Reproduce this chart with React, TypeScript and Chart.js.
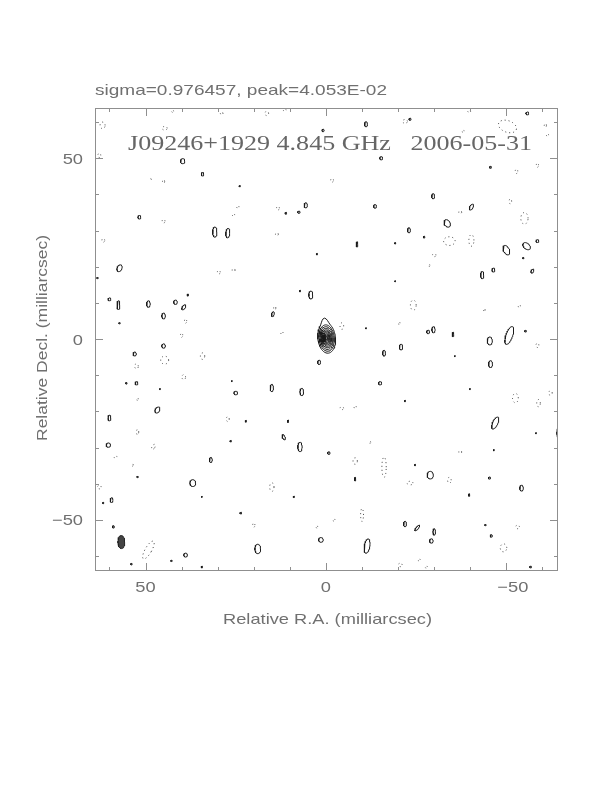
import React, { useEffect, useRef } from "react";
import { Chart, registerables } from "chart.js";

Chart.register(...registerables);

// ---------- text ----------
const headerText = "sigma=0.976457, peak=4.053E-02";
const mapTitle = "J09246+1929 4.845 GHz   2006-05-31";
const xAxisTitle = "Relative R.A. (milliarcsec)";
const yAxisTitle = "Relative Decl. (milliarcsec)";

// ---------- axes (milliarcsec) ----------
const xRange = [-64.3, 64.0];
const yRange = [-64.1, 63.9];
const xTickValues = [50, 0, -50];
const yTickValues = [50, 0, -50];
const xTickLabels = ["50", "0", "\u221250"];
const yTickLabels = ["50", "0", "\u221250"];
const minorTicks = [60, 40, 30, 20, 10, -10, -20, -30, -40, -60];

// ---------- core component: nested contours ----------
const coreCenter = [-0.2, 0.3];
const coreOuter = [2.45, 4.2, 6];
const coreLevels = [1.0, 0.87, 0.75, 0.64, 0.54, 0.45, 0.36, 0.28, 0.2, 0.12];
// bump on the outer contour: direction (deg), amplitude, width (rad)
const coreBump = [97, 0.32, 0.22];

// ---------- restoring beam ----------
const beam = [56.7, -56.1, 0.95, 1.8, 0];

// ---------- positive contours: [x, y, a, b, angle] ----------
const posContours: number[][] = [
  [39.7, 49.2, 0.6, 0.7, 0], [34.2, 45.6, 0.35, 0.5, 0], [23.9, 42.3, 0.2, 0.2, 0],
  [5.6, 37.0, 0.45, 0.7, 0], [7.5, 35.1, 0.35, 0.3, 0], [11.1, 34.8, 0.25, 0.25, 0],
  [51.7, 33.7, 0.4, 0.5, 0], [30.8, 29.6, 0.6, 1.4, 0], [27.2, 29.3, 0.55, 1.3, -5],
  [57.2, 19.6, 0.65, 1.0, -25], [63.3, 16.9, 0.2, 0.2, 0], [60.0, 11.0, 0.4, 0.4, 0],
  [57.5, 9.4, 0.4, 1.2, 0], [49.2, 9.7, 0.5, 0.9, 0], [41.7, 10.2, 0.5, 0.6, 0],
  [39.4, 8.8, 0.4, 0.8, -35], [38.3, 12.2, 0.2, 0.3, 0], [45.0, 6.4, 0.5, 0.8, 0],
  [57.2, 4.4, 0.2, 0.2, 0], [14.7, 6.9, 0.35, 0.7, -15], [4.2, 12.2, 0.55, 1.1, 0],
  [7.2, 13.3, 0.2, 0.2, 0], [0.8, 57.7, 0.3, 0.35, 0], [2.5, 23.5, 0.2, 0.2, 0],
  [-11.1, 59.4, 0.4, 0.7, 0], [-23.3, 60.8, 0.3, 0.3, 0], [-55.8, 62.4, 0.4, 0.4, 0],
  [-15.3, 50.0, 0.4, 0.45, 0], [-45.6, 47.5, 0.25, 0.3, 0], [-29.7, 39.5, 0.4, 0.7, 0],
  [-13.6, 36.7, 0.4, 0.5, 0], [-40.3, 36.5, 0.45, 0.9, -30], [-33.6, 32.0, 0.8, 1.1, 30],
  [-23.0, 30.1, 0.4, 0.7, 0], [-27.2, 28.2, 0.25, 0.25, 0], [-8.6, 26.2, 0.25, 0.7, 0],
  [-19.2, 26.5, 0.2, 0.2, 0], [-50.0, 24.6, 0.8, 1.4, 25], [-55.6, 25.7, 1.2, 0.8, -40],
  [-58.6, 27.1, 0.4, 0.4, 0], [-54.7, 22.4, 0.2, 0.2, 0], [-43.3, 17.7, 0.45, 1.0, 0],
  [-46.4, 19.1, 0.4, 0.55, 0], [-57.2, 18.8, 0.35, 0.6, -25], [-19.2, 16.0, 0.15, 0.15, 0],
  [-28.3, 2.0, 0.4, 0.5, 0], [-29.8, 2.6, 0.45, 0.85, 0], [-11.1, 3.0, 0.15, 0.15, 0],
  [-35.2, 1.3, 0.25, 0.6, 0], [-50.8, 1.0, 0.9, 2.6, -20], [-45.4, -0.5, 0.7, 1.1, 0],
  [-55.3, 2.2, 0.25, 0.25, 0],
  [45.0, -1.9, 0.5, 0.6, 0], [53.0, -4.1, 0.45, 0.55, 0], [52.5, -12.2, 0.4, 0.45, 0],
  [55.3, -12.2, 0.2, 0.25, 0], [46.7, -19.6, 0.6, 0.9, -30], [60.0, -21.8, 0.4, 0.8, 0],
  [60.3, -29.3, 0.6, 0.6, 0], [52.2, -38.1, 0.2, 0.2, 0], [59.4, -44.5, 0.4, 0.65, 0],
  [61.7, -45.3, 0.2, 0.2, 0], [58.9, -51.9, 0.25, 0.35, 0], [36.9, -39.8, 0.8, 0.95, 0],
  [31.9, -33.4, 0.4, 0.7, 0], [25.0, -14.9, 0.5, 0.5, 0], [26.1, -11.6, 0.15, 0.15, 0],
  [22.2, -22.7, 0.2, 0.25, 0], [26.4, -28.2, 0.2, 0.25, 0], [15.0, -13.5, 0.45, 1.0, 0],
  [6.7, -14.6, 0.5, 1.0, 0], [11.7, -27.1, 0.35, 0.8, 25], [7.2, -29.8, 0.6, 1.3, 0],
  [1.9, -6.4, 0.4, 0.6, 0], [23.6, -48.1, 0.25, 0.25, 0], [8.9, -43.6, 0.2, 0.2, 0],
  [1.4, -55.5, 0.65, 0.65, 0], [18.9, -58.0, 0.8, 1.3, 0], [38.9, -59.7, 0.5, 0.55, 0],
  [42.8, -61.3, 0.2, 0.2, 0], [34.4, -63.0, 0.2, 0.25, 0], [53.9, -62.2, 0.2, 0.25, 0],
  [46.0, -13.8, 0.15, 0.15, 0], [10.5, -22.7, 0.15, 0.35, 0], [34.4, -43.6, 0.15, 0.15, 0],
  [-16.1, -3.9, 0.4, 0.8, 0], [-20.8, -2.2, 0.45, 0.8, 0], [-45.6, -6.9, 0.55, 0.95, 0],
  [-15.0, -12.2, 0.45, 0.45, 0], [-46.9, -23.2, 0.7, 1.8, -25], [-64.6, -26.0, 0.6, 1.5, 0],
  [-64.5, -12.4, 0.3, 0.6, 0], [-28.9, -37.6, 0.85, 1.05, 0], [-54.2, -41.2, 0.5, 0.8, 0],
  [-45.3, -38.4, 0.3, 0.3, 0], [-8.1, -38.7, 0.2, 0.5, 0], [-39.7, -43.1, 0.2, 0.35, 0],
  [-21.9, -51.1, 0.4, 0.75, 0], [-25.3, -52.2, 0.3, 1.0, -40], [-30.0, -53.3, 0.35, 0.9, 0],
  [-29.2, -55.8, 0.5, 0.6, 0], [-11.4, -57.2, 0.75, 2.0, -10], [-45.8, -54.4, 0.3, 0.35, 0],
  [-44.2, -51.4, 0.2, 0.2, 0], [-56.7, -63.0, 0.25, 0.25, 0], [-35.7, -4.7, 0.15, 0.15, 0],
  [-39.9, -13.8, 0.15, 0.15, 0], [-21.9, -17.1, 0.15, 0.2, 0], [-46.5, -30.7, 0.15, 0.2, 0],
  [-24.7, -34.8, 0.15, 0.2, 0], [-0.8, -31.5, 0.35, 0.35, 0], [-58.2, -26.0, 0.15, 0.15, 0],
];

// ---------- negative contours (dotted): [x, y, a, b, angle] ----------
const negContours: number[][] = [
  [61.9, 59.1, 0.7, 0.9, 0], [62.8, 50.8, 0.4, 0.6, 0], [44.7, 58.3, 0.7, 0.5, 0],
  [42.5, 63.0, 0.3, 0.3, 0], [28.9, 62.4, 0.35, 0.4, 0], [16.4, 62.4, 0.5, 0.6, 0],
  [11.4, 63.3, 0.4, 0.3, 0], [45.0, 43.6, 0.3, 0.5, 0], [48.6, 44.2, 0.2, 0.2, 0],
  [24.4, 36.5, 0.3, 0.4, 0], [25.6, 34.3, 0.3, 0.4, 0], [13.3, 36.2, 0.4, 0.5, 0],
  [13.6, 29.0, 0.4, 0.4, 0], [45.0, 32.6, 0.4, 0.5, 0], [61.7, 27.3, 0.4, 0.5, 0],
  [29.7, 18.5, 0.4, 0.5, 0], [25.6, 19.1, 0.4, 0.4, 0], [38.9, 5.0, 0.3, 0.6, 0],
  [40.0, 1.1, 0.3, 0.6, 0], [14.2, 8.6, 0.3, 0.5, 0], [12.2, 1.7, 0.3, 0.4, 0],
  [-21.9, 60.2, 0.7, 0.5, 0], [-39.7, 63.0, 0.4, 0.3, 0], [-50.3, 58.8, 2.6, 1.6, -20],
  [-60.8, 59.1, 0.3, 0.5, 0], [-61.4, 56.4, 0.3, 0.4, 0], [-38.0, 57.5, 0.3, 0.3, 0],
  [-1.7, 43.9, 0.4, 0.5, 0], [-52.8, 46.4, 0.35, 0.6, 0], [-58.6, 48.1, 0.3, 0.6, 0],
  [-51.1, 38.1, 0.35, 0.7, 0], [-55.0, 33.4, 1.0, 1.6, 0], [-37.2, 35.1, 0.4, 0.4, 0],
  [-34.2, 27.1, 1.6, 1.2, 0], [-40.3, 27.3, 0.7, 1.6, 0], [-30.0, 23.2, 0.5, 0.4, 0],
  [-28.6, 20.4, 0.2, 0.3, 0], [-24.2, 9.4, 0.8, 1.4, 0], [-43.9, 8.0, 0.2, 0.5, 0],
  [-53.6, 9.1, 0.3, 0.4, 0], [-20.3, 4.4, 0.2, 0.4, 0], [-4.4, 3.6, 0.5, 0.9, 0],
  [44.7, -5.8, 1.1, 1.1, 0], [52.5, -7.5, 0.5, 0.7, 0], [34.2, -4.7, 0.6, 0.9, 0],
  [39.4, -10.5, 0.5, 0.7, 0], [52.2, -16.6, 0.2, 0.4, 0], [52.2, -25.7, 0.3, 0.8, 0],
  [47.8, -29.8, 0.4, 0.8, -30], [58.3, -32.6, 0.4, 0.3, 0], [53.6, -34.8, 0.2, 0.3, 0],
  [62.8, -40.9, 0.5, 0.5, 0], [27.2, -22.1, 0.4, 0.7, 0], [15.0, -40.9, 0.6, 1.2, 0],
  [20.0, -51.4, 0.3, 0.6, 0], [49.2, -58.3, 0.9, 2.8, -30], [2.5, -51.9, 0.2, 0.4, 0],
  [-58.6, -1.7, 0.4, 0.6, 0], [-52.5, -16.3, 0.8, 1.3, 0], [-58.9, -17.7, 0.5, 1.0, 0],
  [-62.2, -14.9, 0.5, 0.6, 0], [-4.4, -19.1, 0.5, 0.4, 0], [-8.1, -18.8, 0.3, 0.4, 0],
  [-12.2, -28.5, 0.2, 0.3, 0], [-8.1, -33.7, 0.6, 0.9, 0], [-16.1, -35.4, 0.6, 2.8, 0],
  [-23.3, -39.8, 0.8, 0.5, 0], [-34.2, -39.0, 0.5, 0.8, 0], [-37.2, -31.2, 0.4, 0.4, 0],
  [-10.0, -48.6, 0.4, 1.8, 0], [-2.2, -50.0, 0.3, 0.3, 0], [-53.1, -51.9, 0.5, 0.5, 0],
  [-49.2, -57.7, 0.9, 1.1, 0], [-20.6, -62.4, 0.5, 0.5, 0], [-25.8, -61.0, 0.3, 0.3, 0],
  [-27.8, -63.0, 0.3, 0.3, 0],
];

// ---------- geometry helper: closed contour from ellipse parameters ----------
function ellipsePoints(
  cx: number, cy: number, a: number, b: number, angDeg: number,
  bump?: number[]
) {
  const phi = (angDeg * Math.PI) / 180;
  const n = 48;
  const pts: { x: number; y: number }[] = [];
  for (let i = 0; i <= n; i++) {
    const t = (2 * Math.PI * i) / n;
    const ex = a * Math.cos(t);
    const ey = b * Math.sin(t);
    let sx = ex * Math.cos(phi) - ey * Math.sin(phi);
    let sy = ex * Math.sin(phi) + ey * Math.cos(phi);
    if (bump) {
      const dir = (bump[0] * Math.PI) / 180;
      let d = Math.atan2(sy, sx) - dir;
      while (d > Math.PI) d -= 2 * Math.PI;
      while (d < -Math.PI) d += 2 * Math.PI;
      const k = 1 + bump[1] * Math.exp(-((d / bump[2]) ** 2));
      sx *= k;
      sy *= k;
    }
    // RA axis increases to the left
    pts.push({ x: cx - sx, y: cy + sy });
  }
  return pts;
}

const SANS = "'Liberation Sans', 'DejaVu Sans', sans-serif";
const SERIF = "'Liberation Serif', 'DejaVu Serif', serif";
const TEXT_COLOR = "#707070";
const TITLE_COLOR = "#666666";
const FRAME_COLOR = "#8f8f8f";

function drawStretched(
  ctx: CanvasRenderingContext2D, text: string, x: number, y: number,
  targetWidth: number, align: "left" | "center"
) {
  const w = ctx.measureText(text).width;
  const s = targetWidth / w;
  ctx.save();
  ctx.translate(x, y);
  ctx.scale(s, 1);
  ctx.textAlign = align;
  ctx.fillText(text, 0, 0);
  ctx.restore();
}

const decorPlugin = {
  id: "pgplotDecor",
  afterDraw(chart: any) {
    const { ctx, chartArea } = chart;
    const xs = chart.scales.x;
    const ys = chart.scales.y;
    const { left, right, top, bottom } = chartArea;
    ctx.save();
    // frame
    ctx.strokeStyle = FRAME_COLOR;
    ctx.lineWidth = 1;
    ctx.strokeRect(left + 0.5, top + 0.5, right - left - 1, bottom - top - 1);
    // ticks (inside)
    const tick = (v: number, len: number) => {
      const px = Math.round(xs.getPixelForValue(v)) + 0.5;
      const py = Math.round(ys.getPixelForValue(v)) + 0.5;
      ctx.beginPath();
      ctx.moveTo(px, bottom); ctx.lineTo(px, bottom - len);
      ctx.moveTo(px, top); ctx.lineTo(px, top + len);
      ctx.moveTo(left, py); ctx.lineTo(left + len, py);
      ctx.moveTo(right, py); ctx.lineTo(right - len, py);
      ctx.stroke();
    };
    minorTicks.forEach((v) => tick(v, 4));
    xTickValues.forEach((v) => tick(v, 8));

    ctx.fillStyle = TEXT_COLOR;
    ctx.textBaseline = "alphabetic";
    // tick labels
    ctx.font = `300 15px ${SANS}`;
    const stretch = 1.22;
    xTickValues.forEach((v, i) => {
      const lbl = xTickLabels[i];
      const w = ctx.measureText(lbl).width * stretch;
      const px = xs.getPixelForValue(v) + (v < 0 ? 6.5 : 0);
      ctx.save();
      ctx.translate(px - w / 2, bottom + 21);
      ctx.scale(stretch, 1);
      ctx.textAlign = "left";
      ctx.fillText(lbl, 0, 0);
      ctx.restore();
    });
    yTickValues.forEach((v, i) => {
      const lbl = yTickLabels[i];
      const w = ctx.measureText(lbl).width * stretch;
      const py = ys.getPixelForValue(v);
      ctx.save();
      ctx.translate(left - 12 - w, py + 5.5);
      ctx.scale(stretch, 1);
      ctx.textAlign = "left";
      ctx.fillText(lbl, 0, 0);
      ctx.restore();
    });
    // header
    ctx.font = `300 15px ${SANS}`;
    drawStretched(ctx, headerText, left, 95, 292, "left");
    // axis titles
    drawStretched(ctx, xAxisTitle, 327.5, 624, 209, "center");
    ctx.save();
    ctx.translate(47, 338);
    ctx.rotate(-Math.PI / 2);
    drawStretched(ctx, yAxisTitle, 0, 0, 206, "center");
    ctx.restore();
    // map title
    ctx.fillStyle = TITLE_COLOR;
    ctx.font = `21px ${SERIF}`;
    drawStretched(ctx, mapTitle, 128, 150, 404, "left");
    ctx.restore();
  },
};

export default function App() {
  const canvasRef = useRef<HTMLCanvasElement | null>(null);

  useEffect(() => {
    if (!canvasRef.current) return;
    const datasets: any[] = [];
    const base = {
      showLine: true,
      pointRadius: 0,
      pointHoverRadius: 0,
      borderWidth: 1,
      tension: 0,
      fill: false,
    };
    posContours.forEach((c) => {
      datasets.push({
        ...base,
        data: ellipsePoints(c[0], c[1], c[2], c[3], c[4]),
        borderColor: "#1a1a1a",
      });
    });
    negContours.forEach((c) => {
      datasets.push({
        ...base,
        data: ellipsePoints(c[0], c[1], c[2], c[3], c[4]),
        borderColor: "#3a3a3a",
        borderDash: [1, 3],
      });
    });
    coreLevels.forEach((f, i) => {
      datasets.push({
        ...base,
        data: ellipsePoints(
          coreCenter[0], coreCenter[1], coreOuter[0] * f, coreOuter[1] * f, coreOuter[2],
          i === 0 ? coreBump : undefined
        ),
        borderColor: "#1a1a1a",
      });
    });
    datasets.push({
      ...base,
      data: ellipsePoints(beam[0], beam[1], beam[2], beam[3], beam[4]),
      borderColor: "#222",
      backgroundColor: "#444",
      fill: "shape",
    });

    const chart = new Chart(canvasRef.current, {
      type: "scatter",
      data: { datasets },
      options: {
        responsive: false,
        animation: false,
        devicePixelRatio: 1,
        events: [],
        layout: { padding: { left: 95, top: 108, right: 54, bottom: 221 } },
        scales: {
          x: { type: "linear", min: xRange[0], max: xRange[1], reverse: true, display: false },
          y: { type: "linear", min: yRange[0], max: yRange[1], display: false },
        },
        plugins: { legend: { display: false }, tooltip: { enabled: false } },
      },
      plugins: [decorPlugin],
    });
    return () => chart.destroy();
  }, []);

  return (
    <div style={{ position: "absolute", left: 0, top: 0, width: 612, height: 792, background: "#fff" }}>
      <canvas ref={canvasRef} width={612} height={792} style={{ width: 612, height: 792 }} />
    </div>
  );
}
